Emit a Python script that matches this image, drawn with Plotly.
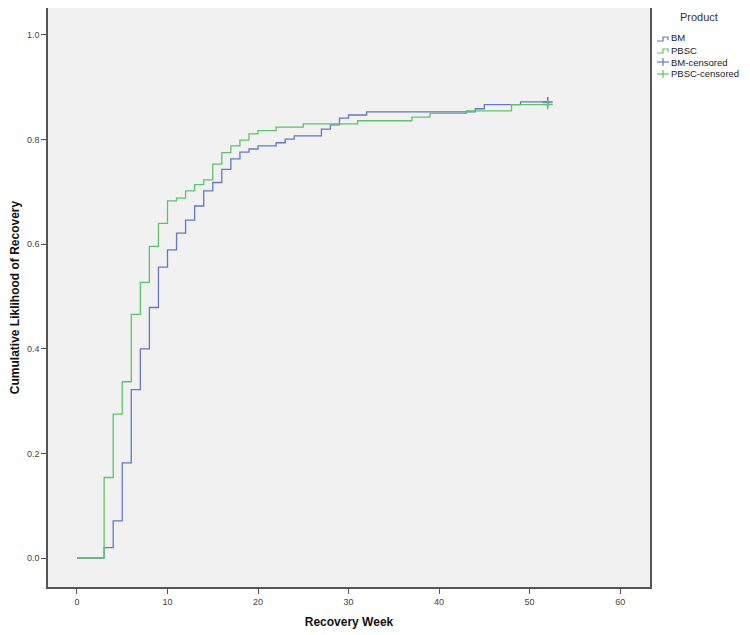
import plotly.graph_objects as go

# Step-change weeks and cumulative likelihood after each step
bm_weeks = [0, 3, 4, 5, 6, 7, 8, 9, 10, 11, 12, 13, 14, 15, 16, 17, 18, 19, 20, 22, 23, 24,
            27, 28, 29, 30, 32, 44, 45, 49, 52]
bm_vals = [0.0, 0.020, 0.071, 0.182, 0.322, 0.400, 0.479, 0.556, 0.589, 0.621, 0.646, 0.673,
           0.702, 0.718, 0.743, 0.763, 0.776, 0.782, 0.788, 0.794, 0.801, 0.807,
           0.820, 0.828, 0.841, 0.847, 0.853, 0.859, 0.867, 0.872, 0.872]

pbsc_weeks = [0, 3, 4, 5, 6, 7, 8, 9, 10, 11, 12, 13, 14, 15, 16, 17, 18, 19, 20, 22, 25,
              31, 37, 39, 43, 48, 52]
pbsc_vals = [0.0, 0.154, 0.275, 0.337, 0.466, 0.527, 0.596, 0.640, 0.683, 0.688, 0.702, 0.714,
             0.723, 0.753, 0.775, 0.788, 0.799, 0.811, 0.817, 0.824, 0.830,
             0.836, 0.843, 0.850, 0.855, 0.867, 0.867]

bm_censored_weeks = [52]
bm_censored_vals = [0.872]
pbsc_censored_weeks = [52]
pbsc_censored_vals = [0.867]

x_ticks = [0, 10, 20, 30, 40, 50, 60]
y_ticks = [0.0, 0.2, 0.4, 0.6, 0.8, 1.0]

legend_title = "Product"
legend_labels = ["BM", "PBSC", "BM-censored", "PBSC-censored"]

BLUE = "#6677c6"
GREEN = "#5ec46c"

# page has an 8px body margin; figure is sized to fit inside the window
OFF = 8
W, H = 742, 627
ML, MR, MT, MB = 40, 100, 0, 48
PW, PH = W - ML - MR, H - MT - MB


def px(x):
    return (x - OFF - ML) / PW


def py(y):
    return (H - MB - (y - OFF)) / PH


fig = go.Figure()
fig.add_trace(go.Scatter(x=bm_weeks, y=bm_vals, mode="lines", line_shape="hv",
                         line=dict(color=BLUE, width=1.3), name=legend_labels[0]))
fig.add_trace(go.Scatter(x=pbsc_weeks, y=pbsc_vals, mode="lines", line_shape="hv",
                         line=dict(color=GREEN, width=1.3), name=legend_labels[1]))
fig.add_trace(go.Scatter(x=bm_censored_weeks, y=bm_censored_vals, mode="markers",
                         marker=dict(symbol="cross-thin", size=7,
                                     line=dict(color=BLUE, width=1.5)),
                         name=legend_labels[2]))
fig.add_trace(go.Scatter(x=pbsc_censored_weeks, y=pbsc_censored_vals, mode="markers",
                         marker=dict(symbol="cross-thin", size=7,
                                     line=dict(color=GREEN, width=1.5)),
                         name=legend_labels[3]))

# Custom legend drawn in paper coordinates
colors = [BLUE, GREEN, BLUE, GREEN]
rows = [38, 50, 62, 74]
shapes = []
annotations = [dict(text=legend_title, x=px(699), y=py(17), xref="paper", yref="paper",
                    showarrow=False, xanchor="center", yanchor="middle",
                    font=dict(size=11, color="#333333"))]
for i, (lab, col, ry) in enumerate(zip(legend_labels, colors, rows)):
    if i < 2:
        path = (f"M {px(657)},{py(ry + 3)} L {px(663)},{py(ry + 3)} L {px(663)},{py(ry - 1)} "
                f"L {px(668)},{py(ry - 1)} L {px(668)},{py(ry + 2)}")
        shapes.append(dict(type="path", path=path, xref="paper", yref="paper",
                           line=dict(color=col, width=1.2)))
    else:
        shapes.append(dict(type="line", x0=px(657), x1=px(669), y0=py(ry), y1=py(ry),
                           xref="paper", yref="paper", line=dict(color=col, width=1.2)))
        shapes.append(dict(type="line", x0=px(663), x1=px(663), y0=py(ry - 4), y1=py(ry + 4),
                           xref="paper", yref="paper", line=dict(color=col, width=1.2)))
    annotations.append(dict(text=lab, x=px(669), y=py(ry), xref="paper", yref="paper",
                            showarrow=False, xanchor="left", yanchor="middle",
                            font=dict(size=9.5, color="#222222")))

axis_font = dict(family="Arial, Liberation Sans, sans-serif", size=9, color="#444444")
title_font = dict(family="Arial, Liberation Sans, sans-serif", size=12, color="#111111")

fig.update_layout(
    width=W, height=H,
    margin=dict(l=ML, r=MR, t=MT, b=MB, autoexpand=False),
    paper_bgcolor="white",
    plot_bgcolor="#f1f1f1",
    font=dict(family="Arial, Liberation Sans, sans-serif"),
    showlegend=False,
    shapes=shapes,
    annotations=annotations,
    xaxis=dict(
        range=[-3.2, 63.3], tickvals=x_ticks, ticktext=[str(v) for v in x_ticks],
        showgrid=False, zeroline=False, showline=True, mirror=True,
        linecolor="#555555", linewidth=1.5, ticks="outside", ticklen=5,
        tickcolor="#555555", tickfont=axis_font,
        title=dict(text="<b>Recovery Week</b>", font=title_font, standoff=12),
    ),
    yaxis=dict(
        range=[-0.0554, 1.0516], tickvals=y_ticks, tickformat=".1f",
        showgrid=False, zeroline=False, showline=True, mirror=True,
        linecolor="#555555", linewidth=1.5, ticks="outside", ticklen=5,
        tickcolor="#555555", tickfont=axis_font,
        title=dict(text="<b>Cumulative Liklihood of Recovery</b>", font=title_font, standoff=8),
    ),
)

fig.write_html("out.html")
